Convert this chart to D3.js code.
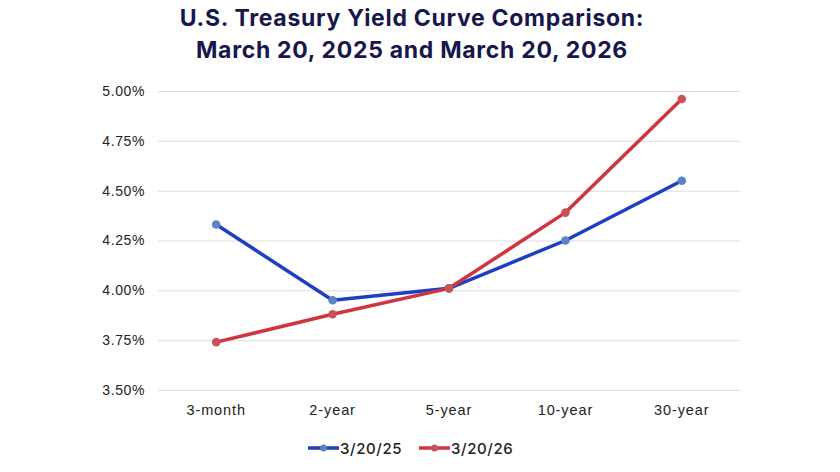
<!DOCTYPE html>
<html><head><meta charset="utf-8">
<script src="https://cdn.jsdelivr.net/npm/d3@7"></script>
<style>
html,body{margin:0;padding:0;background:#fff;}
svg{display:block;font-family:Inter,"Noto Sans",sans-serif;}
</style></head>
<body><svg id="c" width="840" height="472"></svg>
<script>
const categories = ["3-month","2-year","5-year","10-year","30-year"];
const series1Name = "3/20/25";
const series1 = [4.33,3.95,4.01,4.25,4.55];
const series2Name = "3/20/26";
const series2 = [3.74,3.88,4.01,4.39,4.96];
const yTicks = [3.50,3.75,4.00,4.25,4.50,4.75,5.00];
const titleLines = ["U.S. Treasury Yield Curve Comparison:","March 20, 2025 and March 20, 2026"];

const svg = d3.select("#c");
const W = 840, H = 472;
const m = {left:158, right:100, top:91, bottom:82};
const x = d3.scaleBand().domain(categories).range([m.left, W-m.right]);
const y = d3.scaleLinear().domain([3.5,5.0]).range([H-m.bottom, m.top]);

svg.append("rect").attr("width",W).attr("height",H).attr("fill","#fff");

// title
svg.append("g").selectAll("text").data(titleLines).join("text")
  .attr("x",412).attr("y",(d,i)=>26+i*32)
  .attr("text-anchor","middle").attr("font-size",23).attr("font-weight",700)
  .attr("letter-spacing",0.7)
  .attr("fill","#17174b").text(d=>d);

// grid
const yAxis = d3.axisLeft(y).tickValues(yTicks).tickSize(-(W-m.left-m.right)).tickPadding(13)
  .tickFormat(d=>d3.format(".2f")(d)+"%");
const gy = svg.append("g").attr("transform",`translate(${m.left},0)`).call(yAxis);
gy.select(".domain").remove();
gy.selectAll(".tick line").attr("stroke","#dcdcdc").attr("stroke-width",1);
gy.selectAll(".tick text").attr("font-size",14).attr("fill","#222").attr("font-weight",500)
  .attr("letter-spacing",0.6);

const xAxis = d3.axisBottom(x).tickSize(0).tickPadding(15);
const gx = svg.append("g").attr("transform",`translate(0,${H-m.bottom})`).call(xAxis);
gx.select(".domain").remove();
gx.selectAll(".tick text").attr("font-size",14.5).attr("fill","#222").attr("font-weight",500)
  .attr("letter-spacing",0.9);

const cx = d=>x(d)+x.bandwidth()/2;
const line = d3.line().x((d,i)=>cx(categories[i])).y(d=>y(d));

const defs = [
  {name:series1Name, vals:series1, line:"#1d3fc1", dot:"#5b84c6"},
  {name:series2Name, vals:series2, line:"#d0343f", dot:"#c8525a"}
];
defs.forEach(s=>{
  svg.append("path").datum(s.vals).attr("d",line).attr("fill","none")
    .attr("stroke",s.line).attr("stroke-width",3.5).attr("stroke-linejoin","round");
});
defs.forEach(s=>{
  svg.append("g").selectAll("circle").data(s.vals).join("circle")
    .attr("cx",(d,i)=>cx(categories[i])).attr("cy",d=>y(d)).attr("r",4.3)
    .attr("fill",s.dot);
});

// legend
const leg = svg.append("g").attr("transform","translate(308,448)");
const lx = [0,111];
defs.forEach((s,i)=>{
  const g = leg.append("g").attr("transform",`translate(${lx[i]},0)`);
  g.append("line").attr("x1",0).attr("x2",31).attr("y1",0).attr("y2",0)
    .attr("stroke",s.line).attr("stroke-width",3.5);
  g.append("circle").attr("cx",15.5).attr("cy",0).attr("r",3.5).attr("fill",s.dot);
  g.append("text").attr("x",32).attr("y",5.5).attr("font-size",15).attr("fill","#222")
    .attr("font-weight",500).attr("letter-spacing",0.6).text(s.name);
});
</script></body></html>
